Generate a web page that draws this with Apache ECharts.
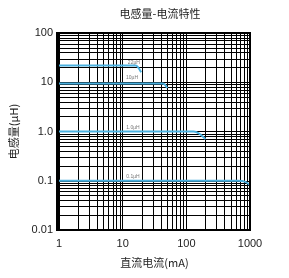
<!DOCTYPE html>
<html lang="zh">
<head>
<meta charset="UTF-8">
<title>电感量-电流特性</title>
<script src="https://cdn.jsdelivr.net/npm/echarts@6/dist/echarts.min.js"></script>
<style>
html, body { margin: 0; padding: 0; background: #fff; }
#chart { width: 289px; height: 278px; }
</style>
</head>
<body>
<div id="chart"></div>
<script>
// curves: [current mA, inductance uH]
const curve22 = [[1, 22], [16, 22], [17.5, 20], [19.5, 16]];
const curve10 = [[1, 9.4], [42, 9.4], [46, 9], [50, 7.6]];
const curve1 = [[1, 1], [130, 1], [160, 0.9], [200, 0.7]];
const curve01 = [[1, 0.1], [650, 0.1], [850, 0.095], [1000, 0.082]];
const curveNames = ['22µH', '10µH', '1.0µH', '0.1µH'];
const labelPos = [[15, 25], [14, 12.2], [14.5, 1.22], [14.5, 0.122]];
const xTickLabels = { 1: '1', 10: '10', 100: '100', 1000: '1000' };
const yTickLabels = { 100: '100', 10: '10', 1: '1.0', 0.1: '0.1', 0.01: '0.01' };

// minor grid at 2..9 of each decade
function gridValues(lo, hi) {
  const out = [];
  for (let d = lo; d < hi; d *= 10) {
    for (let k = 2; k <= 9; k++) out.push(+(d * k).toPrecision(3));
  }
  return out;
}
const xGrid = gridValues(1, 1000);
const yGrid = gridValues(0.01, 100);

const lineColor = '#4bb1e0';
const curves = [curve22, curve10, curve1, curve01];

const chart = echarts.init(document.getElementById('chart'));
const series = curves.map(c => ({
  type: 'line',
  data: c,
  smooth: 0.3,
  symbol: 'none',
  lineStyle: { color: lineColor, width: 2 },
  z: 5
}));
series.push({
  type: 'scatter',
  symbolSize: 0,
  data: labelPos.map((p, i) => ({ value: p, name: curveNames[i] })),
  label: {
    show: true,
    formatter: p => p.name,
    fontSize: 5,
    color: '#555',
    position: 'inside'
  },
  markLine: {
    silent: true,
    symbol: 'none',
    label: { show: false },
    lineStyle: { color: '#000', width: 1, type: 'solid' },
    data: xGrid.map(v => ({ xAxis: v })).concat(yGrid.map(v => ({ yAxis: v })))
  },
  z: 6
});

const option = {
  animation: false,
  title: {
    text: '电感量-电流特性',
    left: 155,
    textAlign: 'center',
    top: 3,
    textStyle: { fontSize: 11, fontWeight: 'normal', color: '#222', fontFamily: 'Noto Sans CJK SC' }
  },
  grid: { left: 57, right: 39, top: 33, bottom: 48 },
  xAxis: {
    type: 'log',
    min: 1,
    max: 1000,
    logBase: 10,
    name: '直流电流(mA)',
    nameLocation: 'middle',
    nameGap: 27,
    nameTextStyle: { fontSize: 11, color: '#222', fontFamily: 'Noto Sans CJK SC' },
    axisLine: { lineStyle: { color: '#000', width: 2 } },
    axisTick: { show: false },
    axisLabel: {
      fontSize: 11, color: '#222', margin: 8, fontFamily: 'Liberation Sans',
      formatter: v => xTickLabels[Math.round(v)] || ''
    },
    splitLine: { show: true, lineStyle: { color: '#000', width: 1 } }
  },
  yAxis: {
    type: 'log',
    min: 0.01,
    max: 100,
    logBase: 10,
    name: '电感量(µH)',
    nameLocation: 'middle',
    nameGap: 40,
    nameTextStyle: { fontSize: 11, color: '#222', fontFamily: 'Noto Sans CJK SC' },
    axisLine: { lineStyle: { color: '#000', width: 2 } },
    axisTick: { show: false },
    axisLabel: {
      fontSize: 11, color: '#222', margin: 6, fontFamily: 'Liberation Sans',
      formatter: v => yTickLabels[+v.toPrecision(3)] || ''
    },
    splitLine: { show: true, lineStyle: { color: '#000', width: 1 } }
  },
  series: series
};
chart.setOption(option);
// frame top/right
chart.setOption({
  graphic: [{
    type: 'rect',
    shape: { x: 57, y: 33, width: 193, height: 197 },
    style: { fill: 'none', stroke: '#000', lineWidth: 2 },
    z: 10
  }]
});
</script>
</body>
</html>
